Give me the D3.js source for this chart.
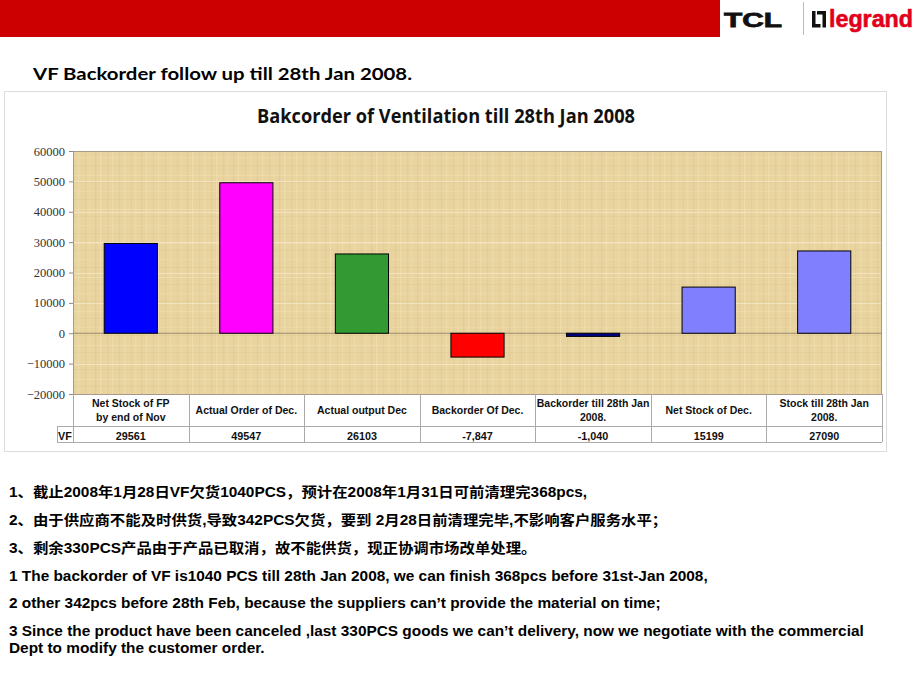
<!DOCTYPE html>
<html><head><meta charset="utf-8">
<script src="https://cdnjs.cloudflare.com/ajax/libs/d3/7.8.5/d3.min.js"></script>
<style>
html,body{margin:0;padding:0;background:#fff;}
svg{display:block;}
</style></head>
<body>
<svg id="c" width="920" height="690"></svg>
<script>
const categories = [
  ["Net Stock of FP","by end of Nov"],
  ["Actual Order of Dec."],
  ["Actual output Dec"],
  ["Backorder Of Dec."],
  ["Backorder till 28th Jan","2008."],
  ["Net Stock of Dec."],
  ["Stock till 28th Jan","2008."]
];
const values = [29561, 49547, 26103, -7847, -1040, 15199, 27090];
const valueLabels = ["29561","49547","26103","-7,847","-1,040","15199","27090"];
const barColors = ["#0000ff","#ff00ff","#339933","#ff0000","#000080","#8080ff","#8080ff"];
const yTicks = [60000,50000,40000,30000,20000,10000,0,-10000,-20000];
const seriesName = "VF";
const chartTitle = "Bakcorder of Ventilation till 28th Jan 2008";
const heading = "VF  Backorder follow up till 28th Jan 2008.";
const notes = [
  "1、截止2008年1月28日VF欠货1040PCS，预计在2008年1月31日可前清理完368pcs,",
  "2、由于供应商不能及时供货,导致342PCS欠货，要到 2月28日前清理完毕,不影响客户服务水平；",
  "3、剩余330PCS产品由于产品已取消，故不能供货，现正协调市场改单处理。",
  "1 The backorder of VF is1040 PCS till 28th Jan 2008, we can finish 368pcs before 31st-Jan 2008,",
  "2 other 342pcs before 28th Feb, because the suppliers can’t provide the material on time;",
  "3 Since the product have been canceled ,last 330PCS goods we can’t delivery, now we negotiate with the commercial",
  "Dept to modify the customer order."
];

(function(){
const svg = d3.select("#c");
const defs = svg.append("defs");

// header
svg.append("rect").attr("x",0).attr("y",0).attr("width",720).attr("height",37).attr("fill","#cc0000");
svg.append("text").attr("x",724).attr("y",27).attr("font-family","Liberation Sans, Arial, sans-serif")
  .attr("font-weight","900").attr("font-size",20).attr("textLength",58).attr("lengthAdjust","spacingAndGlyphs")
  .attr("fill","#111").attr("stroke","#111").attr("stroke-width",0.8).text("TCL");
svg.append("line").attr("x1",803.5).attr("x2",803.5).attr("y1",2).attr("y2",35).attr("stroke","#bbb").attr("stroke-width",1);
// legrand icon
svg.append("path").attr("d","M812,11 h3.5 v13 h5 v3.5 h-8.5 z").attr("fill","#111");
svg.append("path").attr("d","M817,11 h9 v16.5 h-3.5 v-13 h-5.5 z").attr("fill","#111");
svg.append("text").attr("x",829).attr("y",27).attr("font-family","Liberation Sans, Arial, sans-serif")
  .attr("font-weight","bold").attr("font-size",24).attr("textLength",84).attr("lengthAdjust","spacingAndGlyphs")
  .attr("fill","#e2001a").attr("stroke","#e2001a").attr("stroke-width",0.6).text("legrand");

// heading
svg.append("text").attr("x",33).attr("y",80).attr("font-family","Lato, 'Open Sans', sans-serif")
  .attr("font-weight","bold").attr("font-size",17).attr("textLength",379).attr("lengthAdjust","spacingAndGlyphs")
  .attr("fill","#000").text(heading);

// chart box
svg.append("rect").attr("x",4.5).attr("y",91.5).attr("width",882).attr("height",360)
  .attr("fill","#fff").attr("stroke","#dcdcdc").attr("stroke-width",1);

svg.append("text").attr("x",446).attr("y",123).attr("text-anchor","middle")
  .attr("font-family","'Open Sans', Lato, sans-serif").attr("font-weight","bold").attr("font-size",20)
  .attr("textLength",378).attr("lengthAdjust","spacingAndGlyphs").attr("fill","#111").text(chartTitle);

const pLeft = 73, pRight = 882, pTop = 151, pBottom = 394;
const x = d3.scaleBand().domain(d3.range(categories.length)).range([pLeft,pRight]).paddingInner(0.54).paddingOuter(0.27);
const y = d3.scaleLinear().domain([-20000,60000]).range([pBottom,pTop]);

// papyrus-like texture pattern
const pat = defs.append("pattern").attr("id","pap").attr("patternUnits","userSpaceOnUse").attr("width",46).attr("height",34);
pat.append("rect").attr("width",46).attr("height",34).attr("fill","#e9d49f");
const vl = [[3,"#dcc48e",0.5],[8,"#f1e1b5",0.6],[15,"#ddc58f",0.4],[20,"#f0dfb0",0.5],[27,"#d9c18a",0.4],[32,"#f2e3b8",0.5],[39,"#dcc48d",0.4],[43,"#efdead",0.5]];
vl.forEach(d=>pat.append("rect").attr("x",d[0]).attr("y",0).attr("width",1.2).attr("height",34).attr("fill",d[1]).attr("opacity",d[2]));
const hl = [[5,"#f1e2b6",0.5],[12,"#dbc38c",0.3],[21,"#efdfb0",0.45],[29,"#d9c089",0.3]];
hl.forEach(d=>pat.append("rect").attr("x",0).attr("y",d[0]).attr("width",46).attr("height",1).attr("fill",d[1]).attr("opacity",d[2]));

svg.append("rect").attr("x",pLeft).attr("y",pTop).attr("width",pRight-pLeft).attr("height",pBottom-pTop)
  .attr("fill","url(#pap)");

// gridlines (light)
svg.append("g").selectAll("line").data(yTicks.filter(t=>t!==0 && t!==-20000 && t!==60000)).join("line")
  .attr("x1",pLeft).attr("x2",pRight).attr("y1",d=>Math.round(y(d))+0.5).attr("y2",d=>Math.round(y(d))+0.5)
  .attr("stroke","#f8efd4").attr("stroke-width",1).attr("opacity",0.6);

svg.append("rect").attr("x",pLeft+0.5).attr("y",pTop+0.5).attr("width",pRight-pLeft-1).attr("height",pBottom-pTop)
  .attr("fill","none").attr("stroke","#a8998a").attr("stroke-width",1);

// y axis
const yAxis = d3.axisLeft(y).tickValues(yTicks).tickSize(4).tickFormat(d=>d3.format("d")(d).replace("-","−"));
const ga = svg.append("g").attr("transform",`translate(${pLeft},0)`).call(yAxis)
  .attr("font-family","'Liberation Serif', 'DejaVu Serif', 'Times New Roman', serif").attr("font-size",12.5);
ga.select(".domain").attr("stroke","#a8998a");
ga.selectAll(".tick line").attr("stroke","#888");
ga.selectAll("text").style("font-family","'Liberation Serif', 'DejaVu Serif', serif").style("font-size","12.5px")
  .attr("fill","#333").attr("x",-8);

// zero line
svg.append("line").attr("x1",pLeft).attr("x2",pRight).attr("y1",y(0)).attr("y2",y(0))
  .attr("stroke","#9c8a6e").attr("stroke-width",1);

// bars
svg.append("g").selectAll("rect").data(values).join("rect")
  .attr("x",(d,i)=>x(i)).attr("width",x.bandwidth())
  .attr("y",d=>Math.min(y(d),y(0))).attr("height",d=>Math.abs(y(d)-y(0)))
  .attr("fill",(d,i)=>barColors[i]).attr("stroke","#000").attr("stroke-width",1);

// data table
const colX = d3.range(categories.length+1).map(i=>pLeft + i*(pRight-pLeft)/categories.length);
const rowTop = pBottom, rowMid = 426, rowBot = 442;
const tg = svg.append("g");
const bc = "#aaaaaa";
tg.append("line").attr("x1",57).attr("x2",pRight).attr("y1",rowMid+0.5).attr("y2",rowMid+0.5).attr("stroke",bc);
tg.append("line").attr("x1",57).attr("x2",pRight).attr("y1",rowBot+0.5).attr("y2",rowBot+0.5).attr("stroke",bc);
tg.append("line").attr("x1",57.5).attr("x2",57.5).attr("y1",rowMid).attr("y2",rowBot).attr("stroke",bc);
tg.selectAll("line.col").data(colX).join("line").attr("class","col")
  .attr("x1",d=>Math.round(d)+0.5).attr("x2",d=>Math.round(d)+0.5).attr("y1",rowTop).attr("y2",rowBot).attr("stroke",bc);

const tf = "'Liberation Sans', Arial, sans-serif";
categories.forEach((lines,i)=>{
  const cx = (colX[i]+colX[i+1])/2;
  const t = tg.append("text").attr("text-anchor","middle").attr("font-family",tf).attr("font-weight","bold")
    .attr("font-size",10.5).attr("fill","#111");
  if (lines.length===1) {
    t.attr("x",cx).attr("y",414).text(lines[0]);
  } else {
    t.append("tspan").attr("x",cx).attr("y",407).text(lines[0]);
    t.append("tspan").attr("x",cx).attr("y",421).text(lines[1]);
  }
  tg.append("text").attr("x",cx).attr("y",439.5).attr("text-anchor","middle").attr("font-family",tf)
    .attr("font-weight","bold").attr("font-size",10.8).attr("fill","#111").text(valueLabels[i]);
});
tg.append("text").attr("x",65).attr("y",439.5).attr("text-anchor","middle").attr("font-family",tf)
  .attr("font-weight","bold").attr("font-size",10.8).attr("fill","#111").text(seriesName);

// notes
const noteY = [497,525,553,581,608,636,653];
svg.append("g").attr("transform","translate(9,0) scale(1.1,1)").selectAll("text").data(notes).join("text")
  .attr("x",0).attr("y",(d,i)=>noteY[i])
  .attr("font-family","'Liberation Sans', Arial, 'Noto Sans CJK SC', sans-serif").attr("font-weight","bold")
  .attr("font-size",14).attr("fill","#000").text(d=>d);
})();
</script>
</body></html>
